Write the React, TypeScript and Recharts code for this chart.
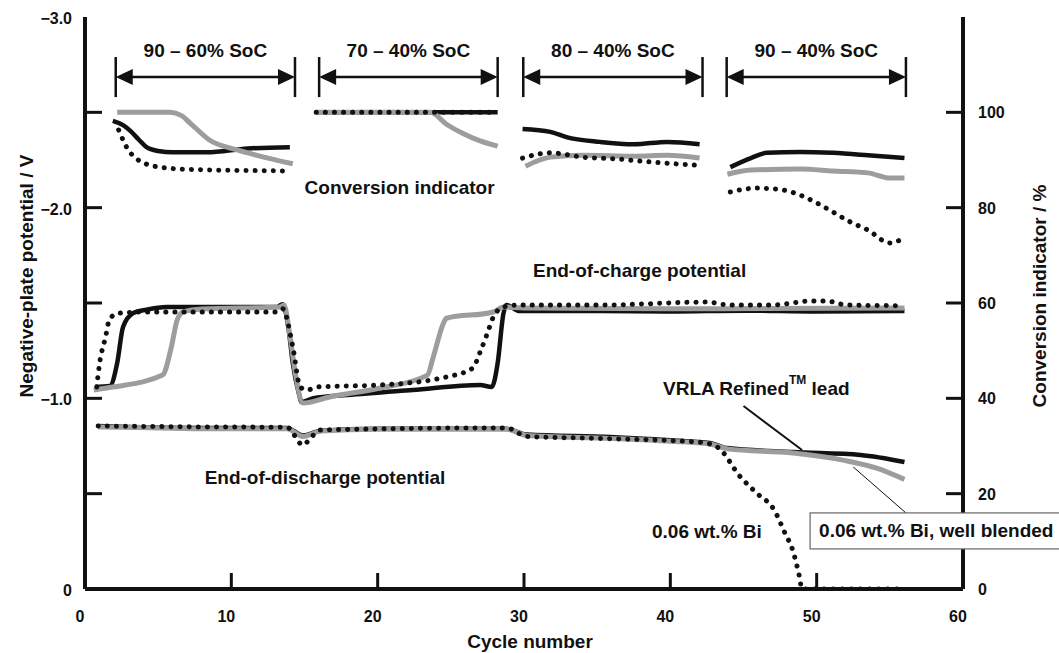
import React from 'react';
import { LineChart, Line, XAxis, YAxis, ReferenceLine, ReferenceDot } from 'recharts';

type Pt = [number, number | null];

const FONT = '"Liberation Sans", Arial, Helvetica, sans-serif';
const INK = '#111';
const GREY = '#9d9d9d';

// conversion indicator, % (right axis); a null breaks the line between SoC blocks
const convRefined: Pt[] = [
  [1.9, 98.2], [2.6, 97.3], [3.1, 96.1], [3.7, 94.2], [4.2, 92.7], [5, 91.9], [6, 91.6], [8.3, 91.6], [11.1, 92.4], [14, 92.7],
  [15, null],
  [15.8, 100], [28.2, 100],
  [29, null],
  [29.9, 96.5], [31.8, 95.9], [32.9, 94.8], [35.2, 93.8], [37.5, 93.3], [39.8, 93.8], [42, 93.3],
  [43, null],
  [44.1, 88.5], [45.5, 90.4], [46.6, 91.5], [48.9, 91.7], [51.1, 91.5], [53.5, 91], [56, 90.4],
];
const convBlended: Pt[] = [
  [2.2, 100], [5.8, 100], [6.6, 99.3], [7.2, 97.7], [8.5, 94.2], [10.4, 92.1], [12.5, 90.4], [14.2, 89.2],
  [15, null],
  [15.8, 100], [23.6, 100], [24.7, 97.5], [25.8, 95.6], [27, 94], [28.2, 92.9],
  [29, null],
  [30.1, 88.7], [31.8, 90.6], [34, 91], [37.5, 90.8], [39.8, 91], [42, 90.4],
  [43, null],
  [43.9, 87], [45.5, 87.9], [48.9, 88.1], [51.1, 87.7], [53.5, 87.3], [55, 86.2], [56, 86.2],
];
const convBi: Pt[] = [
  [2.3, 96.3], [3.1, 91.5], [4.6, 88.8], [6.5, 88.1], [8.7, 87.9], [11, 87.8], [13.8, 87.7],
  [15, null],
  [15.8, 100], [27.6, 100], [28, 99],
  [29, null],
  [29.9, 90.4], [31.8, 91.5], [34, 90.6], [36.4, 90.2], [38.6, 89.6], [41.8, 88.9],
  [43, null],
  [44.1, 83.3], [45.9, 84.1], [47.7, 83.7], [48.9, 82.6], [50, 81], [51.1, 79.1], [52.3, 77], [53.5, 75.3], [55, 72.6], [55.7, 73.2],
];

// end-of-charge potential, V (left axis)
const chargeRefined: Pt[] = [
  [0.7, -1.06], [1.7, -1.065], [2.2, -1.185], [2.6, -1.374], [3.3, -1.447], [4.2, -1.465], [5.6, -1.479], [13.1, -1.479],
  [13.5, -1.494], [13.9, -1.37], [14.2, -1.185], [14.6, -1.03], [14.8, -0.98], [15.6, -1.0], [17.9, -1.017], [22.4, -1.044],
  [27, -1.07], [27.8, -1.06], [28.2, -1.185], [28.6, -1.447], [28.8, -1.489], [29.7, -1.458], [35, -1.458], [40, -1.455],
  [45, -1.46], [50, -1.455], [56, -1.458],
];
const chargeBlended: Pt[] = [
  [0.6, -1.044], [1.9, -1.059], [5.3, -1.122], [5.9, -1.269], [6.3, -1.411], [6.7, -1.453], [8, -1.468], [13.3, -1.479],
  [13.6, -1.49], [14, -1.33], [14.4, -1.12], [14.9, -0.975], [16.7, -1.007], [20.2, -1.054], [23.4, -1.122], [23.8, -1.217],
  [24.5, -1.395], [24.7, -1.42], [27.9, -1.453], [28.6, -1.479], [30, -1.474], [40, -1.47], [56, -1.474],
];
const chargeBi: Pt[] = [
  [0.8, -1.06], [1.0, -1.185], [1.4, -1.32], [1.7, -1.42], [2.4, -1.447], [4.2, -1.453], [13.1, -1.453], [13.5, -1.47],
  [14.2, -1.27], [14.7, -1.06], [15.2, -1.044], [15.9, -1.06], [20.2, -1.07], [24.7, -1.112], [26.5, -1.159], [27, -1.243],
  [27.5, -1.342], [27.9, -1.426], [28.6, -1.479], [29.5, -1.489], [35, -1.489], [42.5, -1.505], [44, -1.49], [47, -1.49],
  [49.6, -1.51], [50.7, -1.51], [52, -1.49], [55.5, -1.486],
];

// end-of-discharge potential, V (left axis)
const dischargeRefined: Pt[] = [
  [0.9, -0.855], [3, -0.85], [8, -0.845], [13.8, -0.845], [14.9, -0.805], [16.1, -0.83], [20, -0.84], [28.8, -0.84],
  [30.2, -0.81], [35.9, -0.797], [40, -0.78], [42.7, -0.766], [43.9, -0.739], [48.4, -0.718], [53, -0.703], [56, -0.666],
];
const dischargeBlended: Pt[] = [
  [0.9, -0.85], [3, -0.848], [8, -0.84], [13.8, -0.84], [14.9, -0.8], [16.1, -0.828], [20, -0.838], [28.8, -0.838],
  [30.2, -0.805], [35.9, -0.79], [40, -0.775], [42.7, -0.76], [43.9, -0.735], [48.4, -0.713], [51.8, -0.676], [54.1, -0.634],
  [56, -0.575],
];
const dischargeBi: Pt[] = [
  [0.9, -0.855], [8, -0.85], [13.8, -0.848], [14.9, -0.755], [15.5, -0.8], [16.1, -0.834], [28.8, -0.845], [30.2, -0.8],
  [35, -0.79], [42, -0.77], [43.2, -0.745], [44.8, -0.587], [45.9, -0.503], [47.1, -0.414], [47.8, -0.299], [48.4, -0.194],
  [48.8, -0.073], [49.0, 0], [55.8, 0],
];

const xTicks = [0, 10, 20, 30, 40, 50, 60];
const vTicks = [-3, -2.5, -2, -1.5, -1, -0.5, 0];
const pctTicks = [0, 20, 40, 60, 80, 100];
const vLabels: Record<string, string> = { '-3': '−3.0', '-2': '−2.0', '-1': '−1.0', '0': '0' };

const socBlocks = [
  { label: '90 – 60% SoC', from: 2.1, to: 14.35 },
  { label: '70 – 40% SoC', from: 16.0, to: 28.2 },
  { label: '80 – 40% SoC', from: 29.95, to: 42.2 },
  { label: '90 – 40% SoC', from: 43.85, to: 56.1 },
];

const rows = (pts: Pt[]) => pts.map(([c, v]) => ({ c, v }));

const tickStyle = { fontFamily: FONT, fontWeight: 700, fontSize: 16, fill: INK };
const noteStyle = { fontFamily: FONT, fontWeight: 700, fontSize: 19, fill: INK };

const LeftTick = (p: any) => {
  const v = p.payload.value;
  const lab = vLabels[String(v)];
  return (
    <g>
      {v > -3 && v < 0 && <line x1={p.x} x2={p.x + 17} y1={p.y} y2={p.y} stroke={INK} strokeWidth={3} />}
      {lab && <text x={p.x - 13} y={p.y + 7} textAnchor="end" style={tickStyle}>{lab}</text>}
    </g>
  );
};

const RightTick = (p: any) => {
  const v = p.payload.value;
  return (
    <g>
      {v > 0 && <line x1={p.x} x2={p.x - 17} y1={p.y} y2={p.y} stroke={INK} strokeWidth={3} />}
      <text x={p.x + 15} y={p.y + 6} textAnchor="start" style={tickStyle}>{v}</text>
    </g>
  );
};

const BottomTick = (p: any) => {
  const v = p.payload.value;
  return (
    <g>
      {v > 0 && v < 60 && <line x1={p.x} x2={p.x} y1={p.y} y2={p.y - 16} stroke={INK} strokeWidth={3} />}
      <text x={p.x - 5} y={p.y + 33} textAnchor="middle" style={tickStyle}>{v}</text>
    </g>
  );
};

const ArrowShape = (p: any) => {
  const { x1, y1, x2 } = p;
  return (
    <g>
      <line x1={x1 + 8} x2={x2 - 8} y1={y1} y2={y1} stroke={INK} strokeWidth={2.5} />
      <polygon points={`${x1},${y1} ${x1 + 17},${y1 - 8} ${x1 + 17},${y1 + 8}`} fill={INK} />
      <polygon points={`${x2},${y1} ${x2 - 17},${y1 - 8} ${x2 - 17},${y1 + 8}`} fill={INK} />
    </g>
  );
};

const note = (text: React.ReactNode, anchor: 'start' | 'middle' = 'middle') => (p: any) => (
  <text x={p.cx} y={p.cy} textAnchor={anchor} dominantBaseline="central" style={noteStyle}>{text}</text>
);

const BoxShape = (p: any) => (
  <g>
    <rect x={p.cx} y={p.cy} width={262} height={36} fill="#fff" stroke="#666" strokeWidth={1.2} />
    <text x={p.cx + 9} y={p.cy + 18} dominantBaseline="central" style={noteStyle}>0.06 wt.% Bi, well blended</text>
  </g>
);

const solid = { stroke: INK, strokeWidth: 4.5 };
const grey = { stroke: GREY, strokeWidth: 5 };
const dotted = { stroke: INK, strokeWidth: 5, strokeDasharray: '0.1 9', strokeLinecap: 'round' as const };

const series = [
  { data: convRefined, axis: 'pct', style: solid },
  { data: convBlended, axis: 'pct', style: grey },
  { data: convBi, axis: 'pct', style: dotted },
  { data: chargeRefined, axis: 'v', style: solid },
  { data: dischargeRefined, axis: 'v', style: solid },
  { data: chargeBlended, axis: 'v', style: grey },
  { data: dischargeBlended, axis: 'v', style: grey },
  { data: chargeBi, axis: 'v', style: dotted },
  { data: dischargeBi, axis: 'v', style: dotted },
];

const titleStyle: React.CSSProperties = {
  position: 'absolute', fontFamily: FONT, fontWeight: 700, fontSize: 19, color: INK, whiteSpace: 'nowrap',
};

export default function App() {
  return (
    <div style={{ position: 'absolute', left: 0, top: 0, width: 1059, height: 653, background: '#fff' }}>
      <LineChart width={1059} height={653} margin={{ top: 17, right: 0, bottom: 0, left: 0 }}>
        <XAxis
          type="number" dataKey="c" domain={[0, 60]} ticks={xTicks} interval={0} allowDataOverflow
          height={64} tickSize={0} tickMargin={0} tickLine={false} tick={<BottomTick />}
          axisLine={{ stroke: INK, strokeWidth: 4 }}
        />
        <XAxis
          xAxisId="top" orientation="top" type="number" domain={[0, 60]} height={0}
          tick={false} tickLine={false} axisLine={{ stroke: INK, strokeWidth: 4 }}
        />
        <YAxis
          yAxisId="v" type="number" domain={[-3, 0]} reversed ticks={vTicks} interval={0} allowDataOverflow
          width={85} tickSize={0} tickMargin={0} tickLine={false} tick={<LeftTick />}
          axisLine={{ stroke: INK, strokeWidth: 4 }}
        />
        <YAxis
          yAxisId="pct" orientation="right" type="number" domain={[0, 120]} ticks={pctTicks} interval={0} allowDataOverflow
          width={96} tickSize={0} tickMargin={0} tickLine={false} tick={<RightTick />}
          axisLine={{ stroke: INK, strokeWidth: 4 }}
        />

        {series.map((s, i) => (
          <Line
            key={i} data={rows(s.data)} dataKey="v" yAxisId={s.axis} type="monotone" dot={false}
            activeDot={false} connectNulls={false} isAnimationActive={false} {...s.style}
          />
        ))}

        {socBlocks.map((b) => (
          <ReferenceLine key={b.label + 'a'} yAxisId="v" segment={[{ x: b.from, y: -2.685 }, { x: b.to, y: -2.685 }]} shape={<ArrowShape />} />
        ))}
        {socBlocks.map((b) => (
          <ReferenceLine key={b.label + 'l'} yAxisId="v" segment={[{ x: b.from, y: -2.79 }, { x: b.from, y: -2.58 }]} stroke={INK} strokeWidth={2.5} />
        ))}
        {socBlocks.map((b) => (
          <ReferenceLine key={b.label + 'r'} yAxisId="v" segment={[{ x: b.to, y: -2.79 }, { x: b.to, y: -2.58 }]} stroke={INK} strokeWidth={2.5} />
        ))}
        {socBlocks.map((b) => (
          <ReferenceDot key={b.label} yAxisId="v" x={(b.from + b.to) / 2} y={-2.826} r={1} shape={note(b.label)} />
        ))}

        <ReferenceDot yAxisId="v" x={21.5} y={-2.108} r={1} shape={note('Conversion indicator')} />
        <ReferenceDot yAxisId="v" x={37.9} y={-1.673} r={1} shape={note('End-of-charge potential')} />
        <ReferenceDot yAxisId="v" x={16.4} y={-0.587} r={1} shape={note('End-of-discharge potential')} />
        <ReferenceDot yAxisId="v" x={42.5} y={-0.304} r={1} shape={note('0.06 wt.% Bi')} />
        <ReferenceDot
          yAxisId="v" x={39.5} y={-1.054} r={1}
          shape={note(<>VRLA Refined<tspan dy={-8} fontSize={12}>TM</tspan><tspan dy={8}> lead</tspan></>, 'start')}
        />

        <ReferenceLine yAxisId="v" segment={[{ x: 45, y: -0.96 }, { x: 49, y: -0.729 }]} stroke={INK} strokeWidth={2} />
        <ReferenceLine yAxisId="v" segment={[{ x: 52.5, y: -0.64 }, { x: 56.1, y: -0.399 }]} stroke={INK} strokeWidth={1} />
        <ReferenceDot yAxisId="v" x={49.55} y={-0.399} r={1} shape={<BoxShape />} zIndex={2000} />
      </LineChart>

      <div style={{ ...titleStyle, left: 27, top: 276, transform: 'translate(-50%, -50%) rotate(-90deg)' }}>
        Negative-plate potential / V
      </div>
      <div style={{ ...titleStyle, left: 1040, top: 296, transform: 'translate(-50%, -50%) rotate(-90deg)' }}>
        Conversion indicator / %
      </div>
      <div style={{ ...titleStyle, left: 530, top: 642, transform: 'translate(-50%, -50%)' }}>
        Cycle number
      </div>
    </div>
  );
}
